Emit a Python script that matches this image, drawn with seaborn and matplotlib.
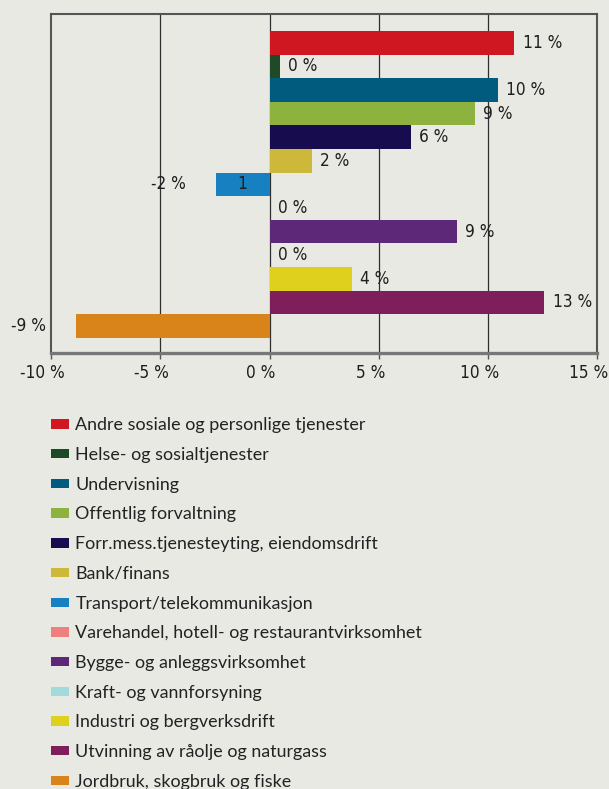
import matplotlib
matplotlib.use("Agg")
import pandas as pd
import matplotlib.pyplot as plt
from matplotlib.patches import Patch
import seaborn as sns

# data
categories = [
    "Andre sosiale og personlige tjenester",
    "Helse- og sosialtjenester",
    "Undervisning",
    "Offentlig forvaltning",
    "Forr.mess.tjenesteyting, eiendomsdrift",
    "Bank/finans",
    "Transport/telekommunikasjon",
    "Varehandel, hotell- og restaurantvirksomhet",
    "Bygge- og anleggsvirksomhet",
    "Kraft- og vannforsyning",
    "Industri og bergverksdrift",
    "Utvinning av råolje og naturgass",
    "Jordbruk, skogbruk og fiske",
]
values = [11.2, 0.46, 10.45, 9.4, 6.45, 1.92, -2.48, 0.0, 8.58, 0.0, 3.75, 12.57, -8.89]
value_labels = ["11 %", "0 %", "10 %", "9 %", "6 %", "2 %", "-2 %", "0 %", "9 %", "0 %", "4 %", "13 %", "-9 %"]
colors = ["#ce1720", "#1e4a27", "#005b7f", "#8db33e", "#170c4e", "#cdb83a", "#1780c1",
          "#f08080", "#5e2878", "#a3dbdc", "#e0d01e", "#7e1e5a", "#d8841a"]
xticks = [-10, -5, 0, 5, 10, 15]
xtick_labels = ["-10 %", "-5 %", "0 %", "5 %", "10 %", "15 %"]

bg = "#e9e9e4"
num_font = {"family": "DejaVu Sans", "stretch": "condensed", "size": 12.3}
df = pd.DataFrame({"kategori": categories, "endring": values})

sns.set_style("white")
plt.rcParams["font.family"] = ["DejaVu Sans"]

fig = plt.figure(figsize=(6.09, 7.89), dpi=100, facecolor=bg)
ax = fig.add_axes([0.0842, 0.5522, 0.8966, 0.4304])
ax.set_facecolor(bg)

sns.barplot(data=df, x="endring", y="kategori", hue="kategori", palette=colors,
            orient="h", width=1.0, saturation=1, linewidth=0, edgecolor="none",
            legend=False, ax=ax, zorder=3)

ax.set_xlim(-10, 15)
ax.set_ylim(13.161, -1.233)
ax.set_xticks(xticks)
ax.set_xticklabels([])
ax.set_yticks([])
ax.set_xlabel("")
ax.set_ylabel("")

# tick labels drawn by hand: they sit a little left of their ticks in the original
for x, t in zip(xticks, xtick_labels):
    ax.annotate(t, xy=(x, 0), xycoords=("data", "axes fraction"), xytext=(-6.2, -14),
                textcoords="offset points", ha="center", va="center",
                color="#1e1e1e", **num_font)

for x in xticks[1:-1]:
    ax.axvline(x, color="#2e2e2e", lw=0.9, zorder=1)

for side in ["top", "left", "right"]:
    ax.spines[side].set_color("#555555")
    ax.spines[side].set_linewidth(1.5)
ax.spines["bottom"].set_color("#777777")
ax.spines["bottom"].set_linewidth(2.4)
ax.tick_params(axis="x", length=4, width=1, color="#555555", direction="out", bottom=True)

# data labels
for i, (v, t) in enumerate(zip(values, value_labels)):
    if v < 0:
        ax.annotate(t, xy=(v, i), xytext=(-21.6, 0), textcoords="offset points",
                    ha="right", va="center", color="#1e1e1e", zorder=4, **num_font)
    else:
        ax.annotate(t, xy=(v, i), xytext=(6, 0), textcoords="offset points",
                    ha="left", va="center", color="#1e1e1e", zorder=4, **num_font)
# stray label inside the transport bar
ti = categories.index("Transport/telekommunikasjon")
ax.text(values[ti] / 2, ti, "1", ha="center", va="center", color="#1e1e1e", zorder=4, **num_font)

handles = [Patch(facecolor=c, edgecolor="none") for c in colors]
fig.legend(handles, categories, loc="upper left", bbox_to_anchor=(0.0837, 0.471),
           frameon=False, borderpad=0, borderaxespad=0,
           prop={"family": "Lato", "size": 12.9}, handlelength=0.99, handleheight=0.43,
           handletextpad=0.37, labelspacing=0.765, labelcolor="#222222")

fig.savefig("out.png", dpi=100, facecolor=bg)
